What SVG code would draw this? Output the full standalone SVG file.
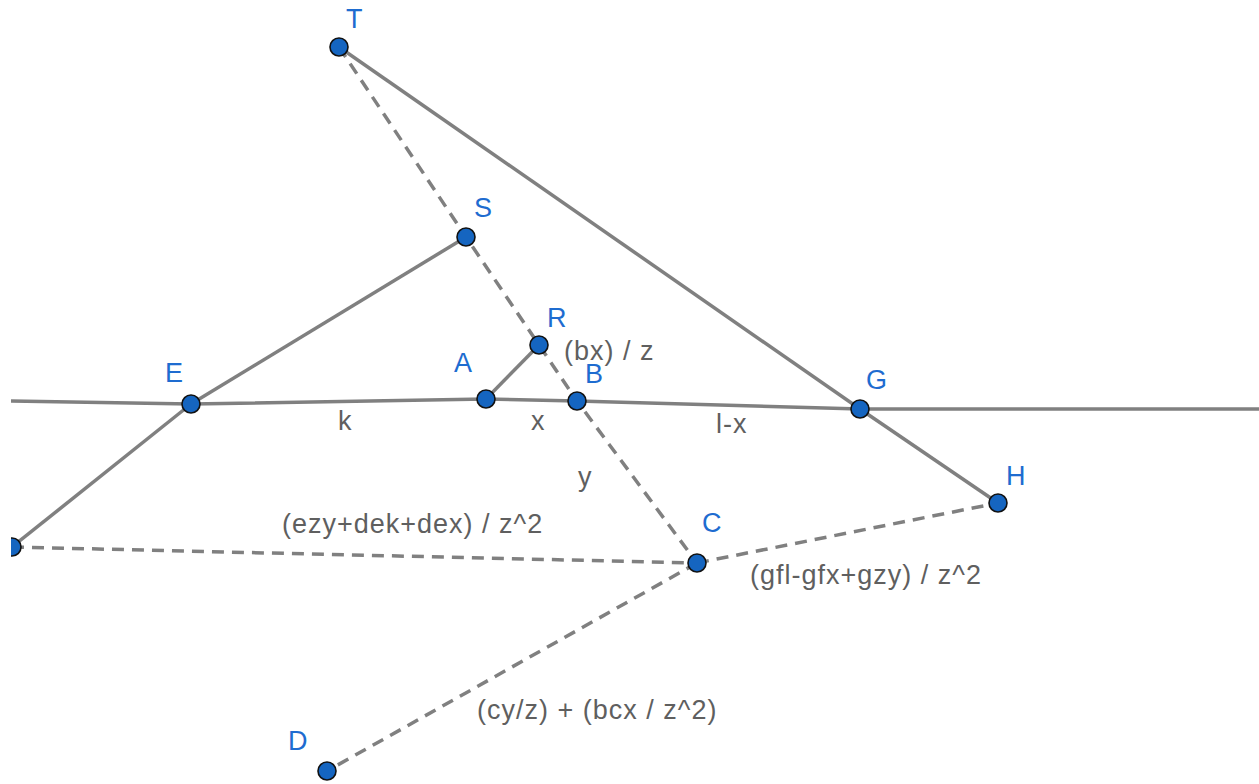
<svg xmlns="http://www.w3.org/2000/svg" width="1259" height="784" viewBox="0 0 1259 784">
<style>
.seg{stroke:#808080;stroke-width:3.5;fill:none;stroke-linecap:butt}
.dash{stroke-dasharray:12 8}
.pt{fill:#1565c0;stroke:#111;stroke-width:1.6}
.pl{font-family:"Liberation Sans",Arial,sans-serif;font-size:27px;fill:#1e6cd0}
.ml{font-family:"Liberation Sans",Arial,sans-serif;font-size:27px;fill:#5f5f5f;letter-spacing:1px}
</style>
<defs>
<clipPath id="crop"><rect x="11" y="0" width="1248" height="784"/></clipPath>
</defs>
<rect width="1259" height="784" fill="#fff"/>
<g clip-path="url(#crop)">
<g id="connectors">
<polyline class="seg" points="11,401 191,404 486,399 577,401 860,409 1259,409"/>
<line class="seg" x1="191" y1="404" x2="466" y2="237"/>
<line class="seg" x1="191" y1="404" x2="12" y2="547"/>
<line class="seg" x1="486" y1="399" x2="539" y2="345"/>
<line class="seg" x1="339" y1="47" x2="860" y2="409"/>
<line class="seg" x1="860" y1="409" x2="998" y2="503"/>
<polyline class="seg dash" points="339,47 466,237 539,345 577,401 697,563"/>
<line class="seg dash" x1="12" y1="547" x2="697" y2="563"/>
<line class="seg dash" x1="697" y1="563" x2="998" y2="503"/>
<line class="seg dash" x1="697" y1="563" x2="327" y2="771"/>
</g>
<g id="labels">
<text class="ml" x="338" y="430">k</text>
<text class="ml" x="531" y="430">x</text>
<text class="ml" x="716" y="433">l-x</text>
<text class="ml" x="578" y="486">y</text>
<text class="ml" x="564" y="360">(bx) / z</text>
<text class="ml" x="282" y="533">(ezy+dek+dex) / z^2</text>
<text class="ml" x="750" y="584">(gfl-gfx+gzy) / z^2</text>
<text class="ml" x="477" y="719">(cy/z) + (bcx / z^2)</text>
</g>
<g id="nodeT"><circle class="pt" cx="339" cy="47" r="9"/><text class="pl" x="346" y="28">T</text></g>
<g id="nodeS"><circle class="pt" cx="466" cy="237" r="9"/><text class="pl" x="474" y="217">S</text></g>
<g id="nodeR"><circle class="pt" cx="539" cy="345" r="9"/><text class="pl" x="547" y="327">R</text></g>
<g id="nodeA"><circle class="pt" cx="486" cy="399" r="9"/><text class="pl" x="454" y="372">A</text></g>
<g id="nodeB"><circle class="pt" cx="577" cy="401" r="9"/><text class="pl" x="585" y="383">B</text></g>
<g id="nodeE"><circle class="pt" cx="191" cy="404" r="9"/><text class="pl" x="165" y="382">E</text></g>
<g id="nodeG"><circle class="pt" cx="860" cy="409" r="9"/><text class="pl" x="866" y="389">G</text></g>
<g id="nodeH"><circle class="pt" cx="998" cy="503" r="9"/><text class="pl" x="1006" y="485">H</text></g>
<g id="nodeC"><circle class="pt" cx="697" cy="563" r="9"/><text class="pl" x="702" y="532">C</text></g>
<g id="nodeD"><circle class="pt" cx="327" cy="771" r="9"/><text class="pl" x="288" y="750">D</text></g>
<g id="nodeF"><circle class="pt" cx="12" cy="547" r="9"/></g>
</g>
</svg>
